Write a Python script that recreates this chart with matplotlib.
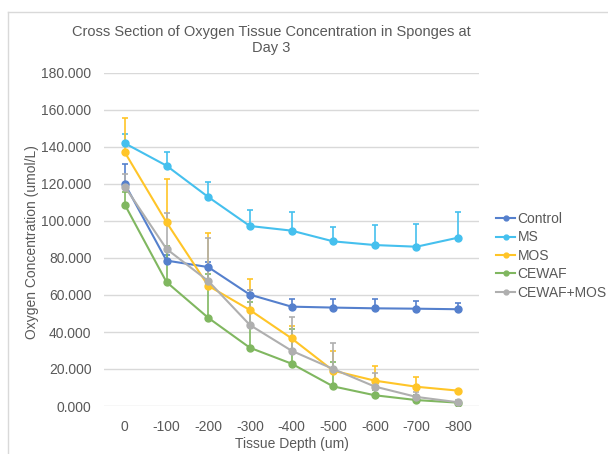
import numpy as np
import matplotlib.pyplot as plt
from matplotlib.lines import Line2D

plt.rcParams['font.family'] = ['Liberation Sans', 'DejaVu Sans']

# depth categories (um)
depths = ['0', '-100', '-200', '-300', '-400', '-500', '-600', '-700', '-800']

# mean oxygen concentration (umol/L) and upper error per treatment
control = [120.0, 78.6, 75.1, 60.2, 53.7, 53.2, 52.8, 52.6, 52.3]
control_err = [11.0, 3.0, 3.0, 2.5, 4.0, 4.6, 5.0, 4.0, 3.2]

ms = [142.0, 129.9, 113.0, 97.3, 94.8, 89.0, 87.0, 86.1, 91.0]
ms_err = [5.0, 7.4, 7.9, 8.8, 10.2, 7.9, 11.0, 12.3, 14.0]

mos = [137.1, 99.3, 65.0, 51.9, 36.6, 19.1, 13.7, 10.4, 8.3]
mos_err = [18.6, 23.6, 28.5, 16.9, 6.8, 10.8, 8.1, 5.4, 0.0]

cewaf = [108.8, 67.0, 47.7, 31.5, 22.9, 10.6, 5.8, 3.2, 1.8]
cewaf_err = [7.0, 19.5, 23.7, 24.5, 18.7, 13.4, 3.0, 3.0, 1.0]

cewaf_mos = [118.6, 84.9, 67.6, 43.8, 29.9, 20.0, 10.5, 4.9, 2.0]
cewaf_mos_err = [6.6, 19.6, 23.4, 19.0, 18.4, 13.9, 7.2, 2.8, 1.0]

names = ['Control', 'MS', 'MOS', 'CEWAF', 'CEWAF+MOS']
colors = ['#5580CD', '#45C0EE', '#FFC528', '#80B760', '#AFAFAF']
series = [(control, control_err), (ms, ms_err), (mos, mos_err),
          (cewaf, cewaf_err), (cewaf_mos, cewaf_mos_err)]

grey_txt = '#595959'

fig = plt.figure(figsize=(6.08, 4.54), dpi=100)
ax = fig.add_axes([104/608, 1-406/454, 375/608, 333/454])

x = np.arange(len(depths))
for (vals, err), c, n in zip(series, colors, names):
    ax.errorbar(x, vals, yerr=[np.zeros(len(err)), err], color=c, lw=1.5,
                marker='o', ms=5, capsize=2.5, elinewidth=1.2, capthick=1.2,
                label=n, zorder=3)

ax.set_xlim(-0.5, len(depths) - 0.5)
ax.set_ylim(0, 180)
ax.set_yticks(np.arange(0, 181, 20))
ax.set_yticklabels([f'{v:.3f}' for v in np.arange(0, 181, 20)])
ax.set_xticks(x)
ax.set_xticklabels(depths)
ax.tick_params(length=0, labelsize=10, labelcolor=grey_txt)
ax.tick_params(axis='y', pad=9)
ax.tick_params(axis='x', pad=10)
ax.grid(axis='y', color='#D9D9D9', lw=1)
ax.set_axisbelow(True)
for s in ax.spines.values():
    s.set_visible(False)

ax.set_xlabel('Tissue Depth (um)', fontsize=10, color=grey_txt, labelpad=2)
fig.text(32/608, 1-242/454, 'Oxygen Concentration (umol/L)', rotation=90,
         ha='center', va='center', fontsize=10, color=grey_txt)
fig.text(271/608, 1-40/454,
         'Cross Section of Oxygen Tissue Concentration in Sponges at\nDay 3',
         ha='center', va='center', fontsize=10.5, color=grey_txt,
         linespacing=1.2)

handles = [Line2D([], [], color=c, lw=1.5, marker='o', ms=3.5) for c in colors]
leg = fig.legend(handles, names, loc='upper left',
                 bbox_to_anchor=(496/608, 1-212/454), frameon=False,
                 fontsize=10, handlelength=1.4, handletextpad=0.15,
                 labelspacing=0.32, borderpad=0, borderaxespad=0)
for t in leg.get_texts():
    t.set_color(grey_txt)

# chart area border (left and top edges)
fig.add_artist(Line2D([8/608, 8/608], [0, 1-12/454], color='#D9D9D9', lw=1))
fig.add_artist(Line2D([8/608, 1], [1-12/454, 1-12/454], color='#D9D9D9', lw=1))

fig.savefig('out.png', dpi=100)
